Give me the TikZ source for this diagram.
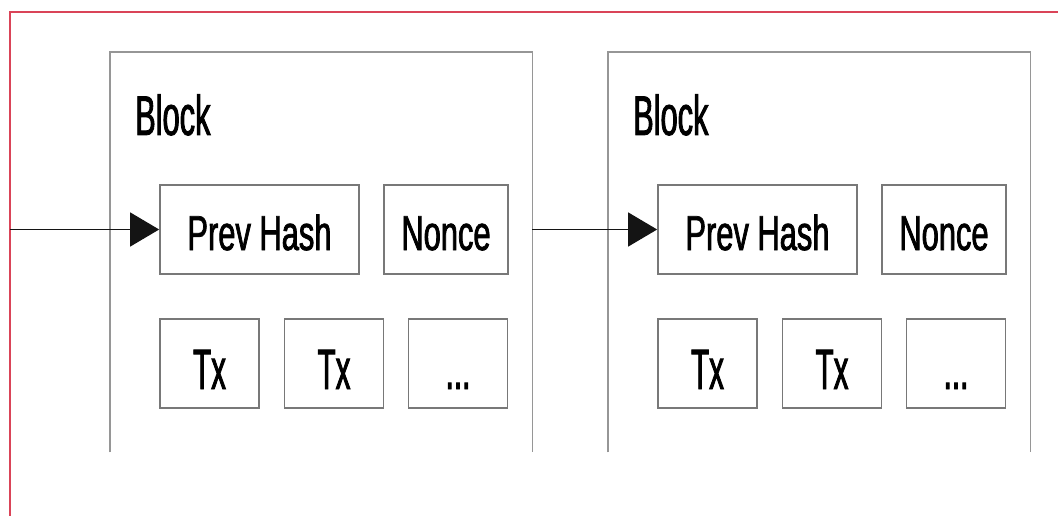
\documentclass[tikz,border=0pt]{standalone}
\usepackage{fontspec}
\usetikzlibrary{arrows.meta}
\newfontfamily\blkfont[FakeStretch=0.55,FakeBold=1.5]{Liberation Sans}
\newfontfamily\fldfont[FakeStretch=0.63,FakeBold=1.5]{Liberation Sans}
\newfontfamily\txfont[FakeStretch=0.52,FakeBold=1.5]{Liberation Sans}
\definecolor{frameRed}{RGB}{218,68,88}
\definecolor{boxGray}{RGB}{120,120,120}
\definecolor{outerGray}{RGB}{150,150,150}
\definecolor{arrowCol}{RGB}{20,20,20}
\tikzset{
  field/.style={draw=boxGray, line width=1.7pt, minimum width=#1, minimum height=89pt,
    inner sep=0pt, font=\fldfont\fontsize{49}{52}\selectfont, text height=41pt, text depth=0pt},
  txbox/.style={draw=boxGray, line width=1.7pt, minimum width=99pt, minimum height=89pt,
    inner sep=0pt, font=\txfont\fontsize{57}{60}\selectfont, text height=51pt, text depth=0pt},
  blkarea/.style={minimum width=422pt, minimum height=400pt, inner sep=0pt, anchor=north west},
  blklabel/.style={anchor=base west, inner sep=0pt, font=\blkfont\fontsize{56}{60}\selectfont},
  outer/.style={draw=outerGray, line width=1.5pt},
  link/.style={draw=arrowCol, line width=1.3pt, -{Triangle[length=29pt,width=34pt]}}
}
\begin{document}
\begin{tikzpicture}[x=1pt,y=-1pt]
\useasboundingbox (0,0) rectangle (1058,516);
% red frame (top and left)
\draw[frameRed, line width=2.5pt] (10,516) -- (10,12) -- (1058,12);

% block 1
\node[blkarea] (b1) at (110,52) {};
\draw[outer] (b1.south west) -- (b1.north west) -- (b1.north east) -- (b1.south east);
\node[blklabel] (l1) at (135,135) {Block};
\node[field=199pt] (ph1) at (259.5,229.5) {Prev Hash};
\node[field=124pt] (n1) at (446,229.5) {Nonce};
\node[txbox] (ta1) at (209.5,363.5) {Tx};
\node[txbox] (tb1) at (334,363.5) {Tx};
\node[txbox] (td1) at (458,363.5) {...};

% block 2
\node[blkarea] (b2) at (608,52) {};
\draw[outer] (b2.south west) -- (b2.north west) -- (b2.north east) -- (b2.south east);
\node[blklabel] (l2) at (633,135) {Block};
\node[field=199pt] (ph2) at (757.5,229.5) {Prev Hash};
\node[field=124pt] (n2) at (944,229.5) {Nonce};
\node[txbox] (ta2) at (707.5,363.5) {Tx};
\node[txbox] (tb2) at (832,363.5) {Tx};
\node[txbox] (td2) at (956,363.5) {...};

% links
\coordinate (start) at (10,229.5);
\draw[link] (start) -- (ph1.west);
\draw[link] (b1.east |- ph2.west) -- (ph2.west);
\end{tikzpicture}
\end{document}
